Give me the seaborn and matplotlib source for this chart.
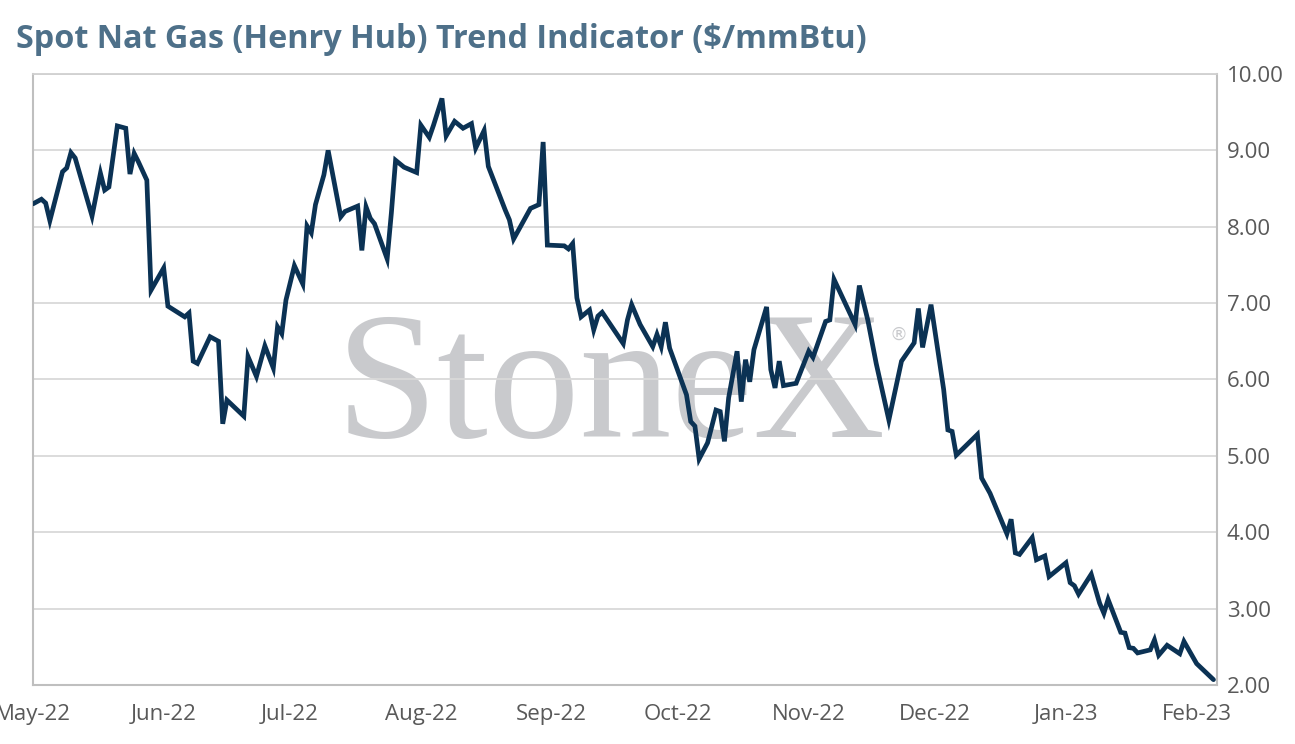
import matplotlib
matplotlib.use("Agg")
import matplotlib.pyplot as plt
import matplotlib.dates as mdates
from matplotlib.ticker import FuncFormatter, FixedLocator
import pandas as pd
import seaborn as sns

title = "Spot Nat Gas (Henry Hub) Trend Indicator ($/mmBtu)"

dates = [
    "2022-05-01", "2022-05-03", "2022-05-04", "2022-05-05", "2022-05-08", "2022-05-09",
    "2022-05-10", "2022-05-11", "2022-05-15", "2022-05-17", "2022-05-18", "2022-05-19",
    "2022-05-21", "2022-05-23", "2022-05-24", "2022-05-25", "2022-05-26", "2022-05-28",
    "2022-05-29", "2022-06-01", "2022-06-02", "2022-06-06", "2022-06-07", "2022-06-08",
    "2022-06-09", "2022-06-12", "2022-06-14", "2022-06-15", "2022-06-16", "2022-06-20",
    "2022-06-21", "2022-06-23", "2022-06-25", "2022-06-27", "2022-06-28", "2022-06-29",
    "2022-06-30", "2022-07-02", "2022-07-04", "2022-07-05", "2022-07-06", "2022-07-07",
    "2022-07-09", "2022-07-10", "2022-07-13", "2022-07-14", "2022-07-17", "2022-07-18",
    "2022-07-19", "2022-07-20", "2022-07-21", "2022-07-24", "2022-07-25", "2022-07-26",
    "2022-07-28", "2022-07-31", "2022-08-01", "2022-08-03", "2022-08-04", "2022-08-06",
    "2022-08-07", "2022-08-09", "2022-08-11", "2022-08-13", "2022-08-14", "2022-08-16",
    "2022-08-17", "2022-08-21", "2022-08-22", "2022-08-23", "2022-08-27", "2022-08-29",
    "2022-08-30", "2022-08-31", "2022-09-04", "2022-09-05", "2022-09-06", "2022-09-07",
    "2022-09-08", "2022-09-10", "2022-09-11", "2022-09-12", "2022-09-13", "2022-09-18",
    "2022-09-19", "2022-09-20", "2022-09-22", "2022-09-25", "2022-09-26", "2022-09-27",
    "2022-09-28", "2022-09-29", "2022-10-03", "2022-10-04", "2022-10-05", "2022-10-06",
    "2022-10-08", "2022-10-10", "2022-10-11", "2022-10-12", "2022-10-13", "2022-10-15",
    "2022-10-16", "2022-10-17", "2022-10-18", "2022-10-19", "2022-10-22", "2022-10-23",
    "2022-10-24", "2022-10-25", "2022-10-26", "2022-10-29", "2022-11-01", "2022-11-02",
    "2022-11-05", "2022-11-06", "2022-11-07", "2022-11-12", "2022-11-13", "2022-11-15",
    "2022-11-17", "2022-11-20", "2022-11-23", "2022-11-26", "2022-11-27", "2022-11-28",
    "2022-11-30", "2022-12-03", "2022-12-04", "2022-12-05", "2022-12-06", "2022-12-11",
    "2022-12-12", "2022-12-14", "2022-12-18", "2022-12-19", "2022-12-20", "2022-12-21",
    "2022-12-24", "2022-12-25", "2022-12-27", "2022-12-28", "2023-01-01", "2023-01-02",
    "2023-01-03", "2023-01-04", "2023-01-07", "2023-01-09", "2023-01-10", "2023-01-11",
    "2023-01-14", "2023-01-15", "2023-01-16", "2023-01-17", "2023-01-18", "2023-01-21",
    "2023-01-22", "2023-01-23", "2023-01-25", "2023-01-28", "2023-01-29", "2023-02-01",
    "2023-02-05",
]

prices = [
    8.30, 8.36, 8.31, 8.08, 8.72, 8.77,
    8.97, 8.90, 8.14, 8.70, 8.48, 8.52,
    9.32, 9.29, 8.69, 8.96, 8.85, 8.61,
    7.17, 7.46, 6.96, 6.82, 6.87, 6.24,
    6.21, 6.56, 6.50, 5.42, 5.73, 5.52,
    6.30, 6.04, 6.44, 6.15, 6.69, 6.60,
    7.04, 7.49, 7.25, 8.01, 7.92, 8.29,
    8.68, 9.00, 8.13, 8.20, 8.27, 7.69,
    8.26, 8.11, 8.04, 7.58, 8.18, 8.87,
    8.78, 8.71, 9.33, 9.17, 9.33, 9.68,
    9.19, 9.38, 9.29, 9.35, 9.03, 9.26,
    8.79, 8.22, 8.09, 7.84, 8.24, 8.29,
    9.11, 7.76, 7.75, 7.71, 7.78, 7.07,
    6.82, 6.91, 6.65, 6.83, 6.88, 6.47,
    6.78, 6.98, 6.72, 6.43, 6.59, 6.43,
    6.75, 6.41, 5.80, 5.45, 5.39, 4.96,
    5.17, 5.60, 5.58, 5.19, 5.76, 6.37,
    5.71, 6.26, 5.97, 6.39, 6.95, 6.13,
    5.89, 6.24, 5.92, 5.95, 6.37, 6.29,
    6.76, 6.78, 7.31, 6.72, 7.23, 6.78,
    6.21, 5.47, 6.24, 6.48, 6.93, 6.42,
    6.98, 5.87, 5.34, 5.32, 5.01, 5.28,
    4.71, 4.51, 3.98, 4.17, 3.73, 3.71,
    3.93, 3.64, 3.69, 3.42, 3.60, 3.34,
    3.30, 3.19, 3.45, 3.07, 2.94, 3.12,
    2.69, 2.68, 2.49, 2.48, 2.42, 2.46,
    2.59, 2.39, 2.52, 2.41, 2.57, 2.28,
    2.07,
]

month_ticks = ["2022-05-01", "2022-06-01", "2022-07-01", "2022-08-01", "2022-09-01",
               "2022-10-01", "2022-11-01", "2022-12-01", "2023-01-01", "2023-02-01"]
y_ticks = [2, 3, 4, 5, 6, 7, 8, 9, 10]

df = pd.DataFrame({"date": pd.to_datetime(dates), "price": prices})

sns.set_theme(style="white")
plt.rcParams["font.family"] = ["Open Sans", "DejaVu Sans"]

fig = plt.figure(figsize=(12.95, 7.44), dpi=100)
ax = fig.add_axes([33 / 1295, 1 - 685 / 744, (1217 - 33) / 1295, (685 - 74) / 744])

sns.lineplot(data=df, x="date", y="price", ax=ax, color="#0B3254", linewidth=3.4,
             solid_joinstyle="miter", zorder=3)

ax.set_xlim(pd.Timestamp("2022-05-01"), pd.Timestamp("2023-02-05 20:00"))
ax.set_ylim(2, 10)
ax.yaxis.set_major_locator(FixedLocator(y_ticks))
ax.yaxis.set_major_formatter(FuncFormatter(lambda v, p: f"{v:.2f}"))
ax.yaxis.tick_right()
ax.xaxis.set_major_locator(FixedLocator(mdates.date2num(pd.to_datetime(month_ticks))))
ax.xaxis.set_major_formatter(mdates.DateFormatter("%b-%y"))

ax.grid(axis="y", color="#D9D9D9", linewidth=1.3)
ax.grid(axis="x", visible=False)
ax.set_axisbelow(True)
ax.set_xlabel("")
ax.set_ylabel("")
for s in ["left", "right", "bottom"]:
    ax.spines[s].set_visible(True)
    ax.spines[s].set_color("#BFBFBF")
    ax.spines[s].set_linewidth(1.5)
ax.spines["top"].set_visible(True)
ax.spines["top"].set_color("#D0D0D0")
ax.spines["top"].set_linewidth(1.3)

ax.tick_params(axis="y", which="both", length=0, pad=7, labelsize=16, labelcolor="#595959")
ax.tick_params(axis="x", which="both", length=0, pad=14, labelsize=16, labelcolor="#595959")

# watermark
ax.text(0.488, 0.478, "StoneX", transform=ax.transAxes, ha="center", va="center",
        fontsize=132, family="Liberation Serif", color="#C9CACD", zorder=0.2)
ax.text(0.731, 0.574, "®", transform=ax.transAxes, ha="center", va="center",
        fontsize=13, family="DejaVu Sans", color="#C9CACD", zorder=0.2)

fig.text(16 / 1295, 1 - 40 / 744, title, ha="left", va="center", fontsize=23.3,
         fontweight="bold", color="#4E7089")

fig.savefig("out.png", dpi=100, facecolor="white")
